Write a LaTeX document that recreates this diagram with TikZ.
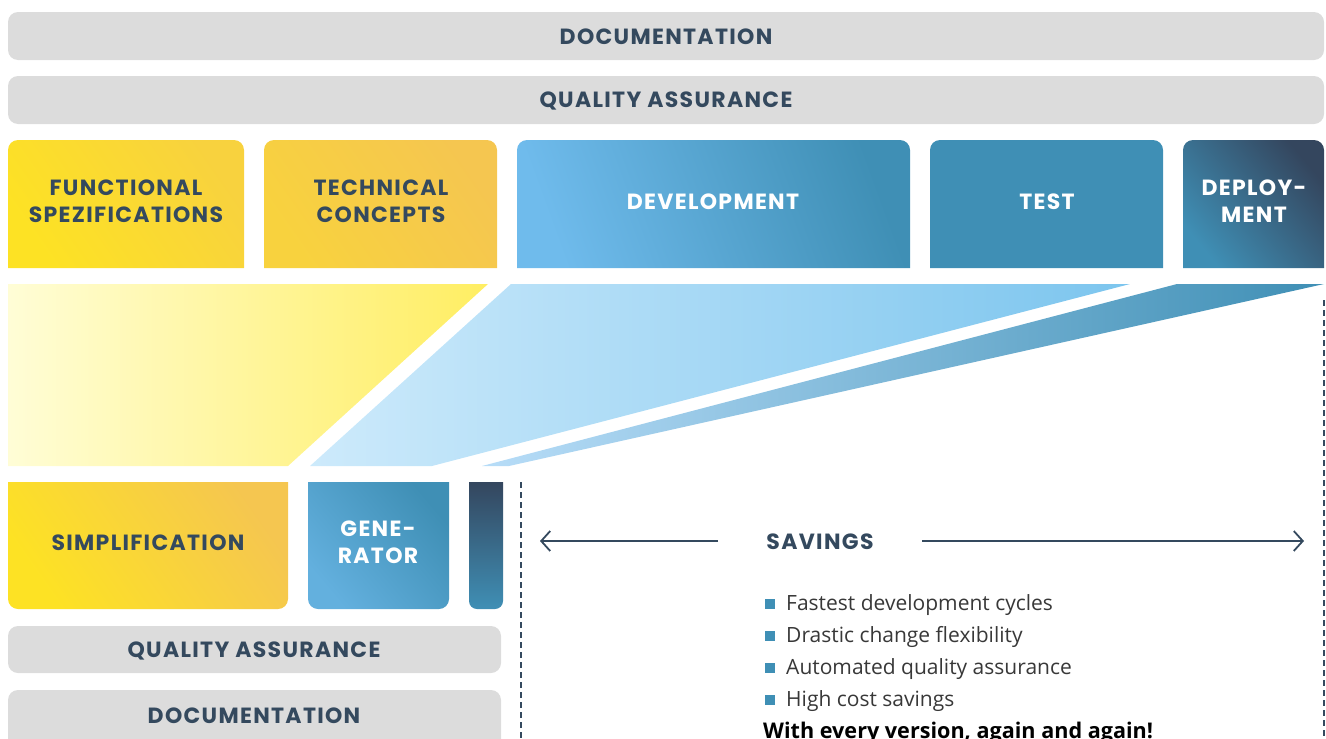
\documentclass[tikz,border=0pt]{standalone}
\usepackage{fontspec}
\setmainfont{Poppins}
\newfontfamily\lblfont{Poppins}[LetterSpace=6]
\newfontfamily\bodyfont{Open Sans}
\usetikzlibrary{arrows.meta}
\definecolor{ink}{HTML}{34495E}
\definecolor{barg}{HTML}{DCDCDC}
\definecolor{ylA}{HTML}{FDE224}
\definecolor{ylB}{HTML}{F8D23E}
\definecolor{ylC}{HTML}{F5C650}
\definecolor{blL}{HTML}{6FBBEC}
\definecolor{blM}{HTML}{3F8FB5}
\definecolor{blD}{HTML}{34465E}
\definecolor{bulc}{HTML}{3F8FB5}
\definecolor{fyL}{HTML}{FFFDD6}
\definecolor{fyR}{HTML}{FFEE62}
\definecolor{fbL}{HTML}{CDEAFB}
\definecolor{fbR}{HTML}{7CC5EE}
\definecolor{fsL}{HTML}{B8DDF8}
\begin{document}
\begin{tikzpicture}[x=1pt,y=-1pt,
  lbl/.style={font=\lblfont\bfseries\fontsize{22}{27}\selectfont, text=ink, align=center, inner sep=0pt},
  wlbl/.style={lbl, text=white},
  bar/.style={fill=barg, rounded corners=10pt},
  item/.style={font=\bodyfont\fontsize{21}{24}\selectfont, text=black!78, anchor=west, inner sep=0pt},
  sq/.style={fill=bulc, minimum size=10pt, inner sep=0pt},
  dashln/.style={draw=ink, line width=2pt, dash pattern=on 6pt off 4pt},
  arr/.style={draw=ink, line width=1.8pt, -{Straight Barb[length=9pt,width=20pt,line width=1.8pt]}}
]
\useasboundingbox (0,0) rectangle (1326,739);

% top bars
\fill[bar] (8,12) rectangle (1324,60);
\node[lbl] (doc1) at (666,37) {DOCUMENTATION};
\fill[bar] (8,76) rectangle (1324,124);
\node[lbl] (qa1) at (666,101) {QUALITY ASSURANCE};

% top boxes
\shade[left color=ylA, right color=ylB, shading angle=125]
  (8,268) [rounded corners=10pt] -- (8,140) -- (244,140) [sharp corners] -- (244,268) -- cycle;
\node[lbl] (fs) at (126,201) {FUNCTIONAL\\SPEZIFICATIONS};
\shade[left color=ylB, right color=ylC, shading angle=125]
  (264,268) [rounded corners=10pt] -- (264,140) -- (497,140) [sharp corners] -- (497,268) -- cycle;
\node[lbl] (tc) at (381,201) {TECHNICAL\\CONCEPTS};
\shade[left color=blL, right color=blM, shading angle=110]
  (517,268) [rounded corners=10pt] -- (517,140) -- (910,140) [sharp corners] -- (910,268) -- cycle;
\node[wlbl] (dev) at (713,202) {DEVELOPMENT};
\fill[blM]
  (930,268) [rounded corners=10pt] -- (930,140) -- (1163,140) [sharp corners] -- (1163,268) -- cycle;
\node[wlbl] (test) at (1047,202) {TEST};
\shade[left color=blM, right color=blD, shading angle=130]
  (1183,268) [rounded corners=10pt] -- (1183,140) -- (1324,140) [sharp corners] -- (1324,268) -- cycle;
\node[wlbl] (dep) at (1254,201) {DEPLOY-\\MENT};

% funnel shapes
\shade[left color=fyL, right color=fyR]
  (8,284) -- (488,284) -- (288,466) -- (8,466) -- cycle;
\shade[left color=fbL, right color=fbR]
  (511,284) -- (1130,284) -- (432,466) -- (310,466) -- cycle;
\shade[left color=fsL, right color=blM]
  (1177,284) -- (1324,284) -- (509,466) -- (482,466) -- cycle;

% bottom boxes
\shade[left color=ylA, right color=ylC, shading angle=125]
  (8,482) [rounded corners=10pt] -- (8,609) -- (288,609) [sharp corners] -- (288,482) -- cycle;
\node[lbl] (simp) at (148,543) {SIMPLIFICATION};
\shade[left color=blL!75!blM, right color=blM, shading angle=130]
  (308,482) [rounded corners=10pt] -- (308,609) -- (449,609) [sharp corners] -- (449,482) -- cycle;
\node[wlbl] (gen) at (378,542) {GENE-\\RATOR};
\shade[top color=blD, bottom color=blM]
  (469,482) [rounded corners=8pt] -- (469,609) -- (503,609) [sharp corners] -- (503,482) -- cycle;

\fill[bar] (8,626) rectangle (501,673);
\node[lbl] (qa2) at (254,651) {QUALITY ASSURANCE};
\fill[bar] (8,690) rectangle (501,760);
\node[lbl] (doc2) at (254,716) {DOCUMENTATION};

% dashed bounds
\coordinate (dlT) at (521,482);
\coordinate (dlB) at (521,739);
\coordinate (drT) at (1324,300);
\coordinate (drB) at (1324,739);
\draw[dashln] (dlT) -- (dlB);
\draw[dashln] (drT) -- (drB);

% savings
\node[lbl] (sav) at (820,542) {SAVINGS};
\coordinate (aLs) at (718,541);
\coordinate (aLe) at (540,541);
\coordinate (aRs) at (922,541);
\coordinate (aRe) at (1304,541);
\draw[arr] (aLs) -- (aLe);
\draw[arr] (aRs) -- (aRe);

\node[sq] (b1) at (770,604) {};
\node[item] (t1) at (786,605) {Fastest development cycles};
\node[sq] (b2) at (770,636) {};
\node[item] (t2) at (786,637) {Drastic change flexibility};
\node[sq] (b3) at (770,668) {};
\node[item] (t3) at (786,669) {Automated quality assurance};
\node[sq] (b4) at (770,700) {};
\node[item] (t4) at (786,701) {High cost savings};
\node[font=\bodyfont\bfseries\fontsize{21.6}{24}\selectfont, text=black, anchor=base west, inner sep=0pt] (fin) at (763,738) {With every version, again and again!};
\end{tikzpicture}
\end{document}
